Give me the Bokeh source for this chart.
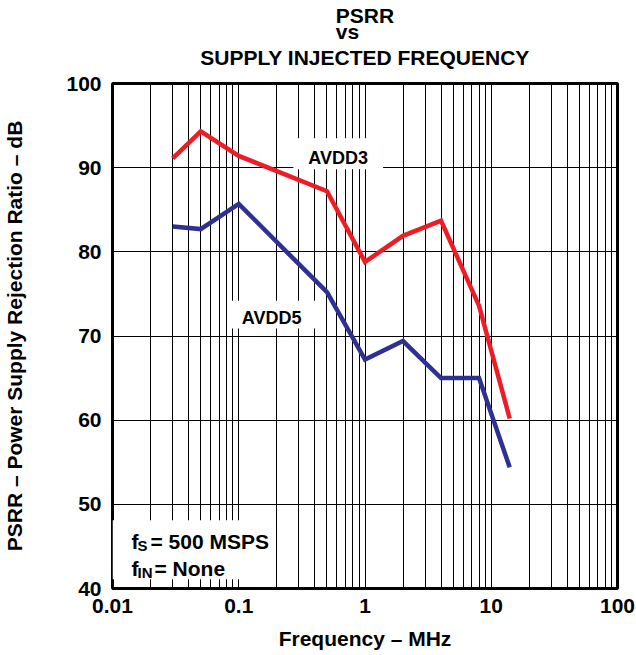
from bokeh.plotting import figure
from bokeh.models import FixedTicker, Label, BoxAnnotation, Title
from bokeh.embed import file_html
from bokeh.resources import INLINE

# ---- data ----
freq_mhz = [0.03, 0.05, 0.1, 0.5, 1, 2, 4, 8, 14]
psrr_avdd3 = [91.1, 94.3, 91.4, 87.2, 78.8, 81.9, 83.7, 73.6, 60.2]
psrr_avdd5 = [83.0, 82.7, 85.7, 75.2, 67.2, 69.4, 65.0, 65.0, 54.4]
series_names = ["AVDD3", "AVDD5"]

x_ticks = [0.01, 0.1, 1, 10, 100]
x_tick_labels = ["0.01", "0.1", "1", "10", "100"]
x_decades = [0.01, 0.1, 1, 10]
x_minor_mult = [2, 3, 4, 5, 6, 7, 8, 9]
y_ticks = [40, 50, 60, 70, 80, 90, 100]

FONT = "Liberation Sans"
RED = "#EE1C25"
BLUE = "#2E3192"

x_minor = [round(m * d, 6) for d in x_decades for m in x_minor_mult]

p = figure(width=636, height=654, x_axis_type="log", title=None,
           x_range=(0.01, 100), y_range=(40, 100),
           output_backend="svg", toolbar_location=None,
           min_border_left=108, min_border_right=19,
           min_border_top=83, min_border_bottom=66)
p.background_fill_color = "white"
p.border_fill_color = "white"
p.outline_line_color = "black"
p.outline_line_width = 3

p.xaxis.ticker = FixedTicker(ticks=x_ticks, minor_ticks=x_minor)
p.yaxis.ticker = FixedTicker(ticks=y_ticks)
p.xaxis.major_label_overrides = dict(zip(x_ticks, x_tick_labels))

for ax in (p.xaxis[0], p.yaxis[0]):
    ax.major_tick_line_color = None
    ax.minor_tick_line_color = None
    ax.major_tick_out = 0
    ax.major_tick_in = 0
    ax.minor_tick_out = 0
    ax.minor_tick_in = 0
    ax.axis_line_color = None
    ax.major_label_text_font = FONT
    ax.major_label_text_font_style = "bold"
    ax.major_label_text_font_size = "21px"
    ax.major_label_text_color = "black"
    ax.axis_label_text_font = FONT
    ax.axis_label_text_font_style = "bold"
    ax.axis_label_text_font_size = "21px"
    ax.axis_label_text_color = "black"

p.xaxis.axis_label = "Frequency \u2013 MHz"
p.yaxis.axis_label = "PSRR \u2013 Power Supply Rejection Ratio \u2013 dB"
p.xaxis.major_label_standoff = 10
p.yaxis.major_label_standoff = 11
p.xaxis.axis_label_standoff = 11
p.yaxis.axis_label_standoff = 37

p.xgrid.grid_line_color = "black"
p.xgrid.grid_line_width = 1
p.xgrid.minor_grid_line_color = "black"
p.xgrid.minor_grid_line_width = 1
p.ygrid.grid_line_color = "black"
p.ygrid.grid_line_width = 1

# white boxes behind the in-plot texts
box_style = dict(fill_color="white", fill_alpha=1.0, line_color=None, level="underlay")
p.add_layout(BoxAnnotation(left=0.271, right=1.39, bottom=89.8, top=93.5, **box_style))
p.add_layout(BoxAnnotation(left=0.085, right=0.455, bottom=70.9, top=74.2, **box_style))
p.add_layout(BoxAnnotation(left=0.01, right=0.172, bottom=41.1, top=48.1, **box_style))

p.line(freq_mhz, psrr_avdd3, line_color=RED, line_width=4.5, line_join="miter")
p.line(freq_mhz, psrr_avdd5, line_color=BLUE, line_width=4.5, line_join="miter")

lab = dict(text_font=FONT, text_font_style="bold", text_color="black",
           text_baseline="alphabetic")
p.add_layout(Label(x=0.612, y=91.1, text=series_names[0], text_align="center",
                   text_font_size="18px", **lab))
p.add_layout(Label(x=0.182, y=72.15, text=series_names[1], text_align="center",
                   text_font_size="18px", **lab))

# conditions note with subscripts
p.add_layout(Label(x=0.01, y=45.6, x_offset=19, text="f", text_align="left",
                   text_font_size="21px", **lab))
p.add_layout(Label(x=0.01, y=45.6, x_offset=25, y_offset=-4, text="S", text_align="left",
                   text_font_size="15px", **lab))
p.add_layout(Label(x=0.01, y=45.6, x_offset=38, text="= 500 MSPS", text_align="left",
                   text_font_size="21px", **lab))
p.add_layout(Label(x=0.01, y=42.4, x_offset=19, text="f", text_align="left",
                   text_font_size="21px", **lab))
p.add_layout(Label(x=0.01, y=42.4, x_offset=25, y_offset=-4, text="IN", text_align="left",
                   text_font_size="15px", **lab))
p.add_layout(Label(x=0.01, y=42.4, x_offset=42, text="= None", text_align="left",
                   text_font_size="21px", **lab))

# title: centred lines above the frame (first added is closest to the frame)
tstyle = dict(align="center", text_font=FONT, text_font_style="bold", text_color="black")
# blank spacer panel between the frame and the title block
p.add_layout(Title(text=" ", text_font_size="1px", standoff=12, **tstyle), "above")
p.add_layout(Title(text="SUPPLY INJECTED FREQUENCY", text_font_size="21px",
                   standoff=0, **tstyle), "above")
p.add_layout(Title(text="PSRR\nvs", text_font_size="21px", text_line_height=0.7,
                   standoff=0, **tstyle), "above")

open("out.html", "w").write(file_html(p, INLINE))
